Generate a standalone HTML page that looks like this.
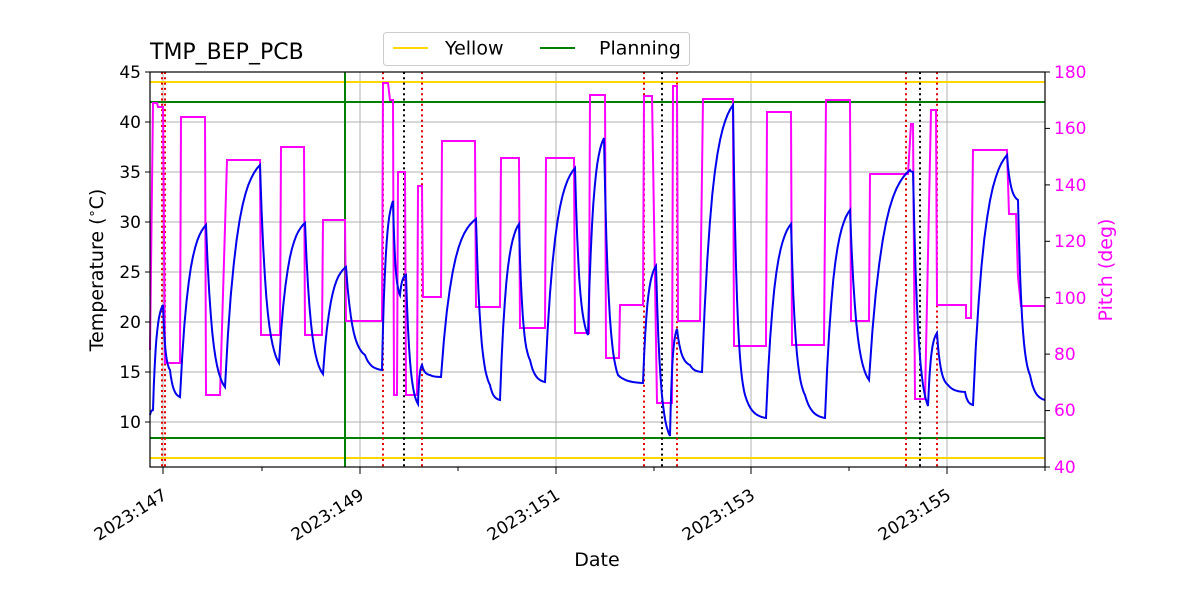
<!DOCTYPE html>
<html><head><meta charset="utf-8"><style>
body{margin:0;background:#fff}
svg text{font-family:"DejaVu Sans","Liberation Sans",sans-serif}
</style></head><body>
<svg id="s" width="1200" height="600" xmlns="http://www.w3.org/2000/svg">
<rect width="1200" height="600" fill="#fff"/>
<g stroke="#b0b0b0" stroke-width="1">
<line x1="150" x2="1045" y1="72" y2="72"/><line x1="150" x2="1045" y1="122" y2="122"/>
<line x1="150" x2="1045" y1="172" y2="172"/><line x1="150" x2="1045" y1="222" y2="222"/>
<line x1="150" x2="1045" y1="272" y2="272"/><line x1="150" x2="1045" y1="322" y2="322"/>
<line x1="150" x2="1045" y1="372" y2="372"/><line x1="150" x2="1045" y1="422" y2="422"/>
<line x1="163" x2="163" y1="72" y2="467"/><line x1="360" x2="360" y1="72" y2="467"/>
<line x1="556" x2="556" y1="72" y2="467"/><line x1="751" x2="751" y1="72" y2="467"/>
<line x1="947" x2="947" y1="72" y2="467"/>
</g>
<line x1="150" x2="1045" y1="82" y2="82" stroke="#ffd700" stroke-width="2"/>
<line x1="150" x2="1045" y1="458" y2="458" stroke="#ffd700" stroke-width="2"/>
<line x1="150" x2="1045" y1="102" y2="102" stroke="#008000" stroke-width="2"/>
<line x1="150" x2="1045" y1="438" y2="438" stroke="#008000" stroke-width="2"/>
<line x1="345" x2="345" y1="72" y2="467" stroke="#008000" stroke-width="2"/>
<g stroke-width="2" stroke-dasharray="2,3.3">
<g stroke="#e00000"><line x1="162" x2="162" y1="72" y2="467"/><line x1="165" x2="165" y1="72" y2="467"/>
<line x1="383" x2="383" y1="72" y2="467"/><line x1="422" x2="422" y1="72" y2="467"/>
<line x1="644" x2="644" y1="72" y2="467"/><line x1="677" x2="677" y1="72" y2="467"/>
<line x1="906" x2="906" y1="72" y2="467"/><line x1="937" x2="937" y1="72" y2="467"/></g>
<g stroke="#000"><line x1="404" x2="404" y1="72" y2="467"/><line x1="662" x2="662" y1="72" y2="467"/><line x1="920" x2="920" y1="72" y2="467"/></g>
</g>
<polyline fill="none" stroke="#ff00ff" stroke-width="2" points="150,350 153,103 157,103 158,107 163,107 165,363 180,363 181,117 205,117 206,395 220,395 227,160 260,160 261,335 280,335 281,147 304,147 305,335 322,335 323,220 345,220 346,321 382,321 383,83 388,83 390,100 393,100 394,395 397,395 398,172 405,172 406,395 417,395 418,186 422,186 423,297 441,297 442,141 475,141 476,307 500,307 501,158 519,158 520,328 545,328 546,158 574,158 575,333 589,333 590,95 605,95 606,358 619,358 620,305 643,305 644,96 652,96 657,403 672,403 673,86 677,86 678,321 700,321 703,99 733,99 734,346 766,346 767,112 791,112 792,345 824,345 826,100 850,100 851,321 869,321 870,174 906,174 908,174 911,124 913,124 915,399 923,399 925,399 931,110 936,110 937,305 966,305 966,318 971,318 973,150 1007,150 1009,214 1016,214 1018,277 1021,306 1045,306"/>
<polyline id="blue" fill="none" stroke="#0000ee" stroke-width="2"/>
<rect x="150" y="72" width="895" height="395" fill="none" stroke="#000" stroke-width="1.2"/>
<g stroke="#000" stroke-width="1">
<line x1="145" x2="150" y1="72" y2="72"/><line x1="145" x2="150" y1="122" y2="122"/><line x1="145" x2="150" y1="172" y2="172"/>
<line x1="145" x2="150" y1="222" y2="222"/><line x1="145" x2="150" y1="272" y2="272"/><line x1="145" x2="150" y1="322" y2="322"/>
<line x1="145" x2="150" y1="372" y2="372"/><line x1="145" x2="150" y1="422" y2="422"/>
<line x1="1045" x2="1050" y1="72" y2="72"/><line x1="1045" x2="1050" y1="128.4" y2="128.4"/><line x1="1045" x2="1050" y1="184.9" y2="184.9"/>
<line x1="1045" x2="1050" y1="241.3" y2="241.3"/><line x1="1045" x2="1050" y1="297.7" y2="297.7"/><line x1="1045" x2="1050" y1="354.1" y2="354.1"/>
<line x1="1045" x2="1050" y1="410.6" y2="410.6"/><line x1="1045" x2="1050" y1="467" y2="467"/>
<line x1="163" x2="163" y1="467" y2="474"/><line x1="360" x2="360" y1="467" y2="474"/><line x1="556" x2="556" y1="467" y2="474"/>
<line x1="751" x2="751" y1="467" y2="474"/><line x1="947" x2="947" y1="467" y2="474"/>
<line x1="262" x2="262" y1="467" y2="471"/><line x1="458" x2="458" y1="467" y2="471"/><line x1="654" x2="654" y1="467" y2="471"/>
<line x1="849" x2="849" y1="467" y2="471"/><line x1="1045" x2="1045" y1="467" y2="471"/>
</g>
<g font-size="17" text-anchor="end" fill="#000">
<text x="141" y="78">45</text><text x="141" y="128">40</text><text x="141" y="178">35</text><text x="141" y="228">30</text>
<text x="141" y="278">25</text><text x="141" y="328">20</text><text x="141" y="378">15</text><text x="141" y="428">10</text>
</g>
<g font-size="17" fill="#ff00ff">
<text x="1054" y="78">180</text><text x="1054" y="134">160</text><text x="1054" y="191">140</text><text x="1054" y="247">120</text>
<text x="1054" y="304">100</text><text x="1054" y="360">80</text><text x="1054" y="416">60</text><text x="1054" y="473">40</text>
</g>
<g font-size="17" text-anchor="end">
<text transform="translate(168,498) rotate(-32)">2023:147</text>
<text transform="translate(365,498) rotate(-32)">2023:149</text>
<text transform="translate(561,498) rotate(-32)">2023:151</text>
<text transform="translate(756,498) rotate(-32)">2023:153</text>
<text transform="translate(952,498) rotate(-32)">2023:155</text>
</g>
<text x="597" y="566" font-size="19" text-anchor="middle">Date</text>
<text transform="translate(103,270) rotate(-90)" font-size="19" text-anchor="middle">Temperature (<tspan font-size="13" dy="-7">∘</tspan><tspan dy="7">C)</tspan></text>
<text transform="translate(1112,270) rotate(-90)" font-size="19" text-anchor="middle" fill="#ff00ff">Pitch (deg)</text>
<text x="150" y="59" font-size="22">TMP_BEP_PCB</text>
<rect x="383.5" y="32.5" width="306" height="33" rx="3" fill="#fff" stroke="#ccc"/>
<line x1="393" x2="428" y1="48" y2="48" stroke="#ffd700" stroke-width="2"/>
<text x="445" y="54.5" font-size="19">Yellow</text>
<line x1="540" x2="575" y1="48" y2="48" stroke="#008000" stroke-width="2"/>
<text x="599" y="54.5" font-size="19">Planning</text>
</svg>
<script>
var P=[[150,415],[153,410],[163,305],[170,370],[180,397],[206,225],[225,387],[260,165],[279,363],[305,223],[323,374],[346,267],[365,355],[382,370],[393,201],[400,295],[406,275],[418,404],[422,365],[430,375],[441,377],[476,219],[490,385],[500,400],[519,224],[530,360],[545,382],[575,168],[588,335],[604,138],[618,375],[643,383],[656,266],[670,436],[677,329],[690,365],[702,372],[733,105],[745,395],[766,418],[791,224],[805,395],[825,418],[850,210],[869,380],[910,170],[913,172],[928,406],[937,333],[948,385],[965,392],[973,405],[1007,155],[1018,200],[1030,375],[1045,400]];
var pts=[],k=3,n=1-Math.exp(-k);
for(var i=0;i<P.length-1;i++){var a=P[i],b=P[i+1];for(var j=0;j<12;j++){var t=j/12,f=(1-Math.exp(-k*t))/n;pts.push((a[0]+(b[0]-a[0])*t).toFixed(1)+","+(a[1]+(b[1]-a[1])*f).toFixed(1));}}
pts.push(P[P.length-1].join(","));
document.getElementById("blue").setAttribute("points",pts.join(" "));
</script>
</body></html>
